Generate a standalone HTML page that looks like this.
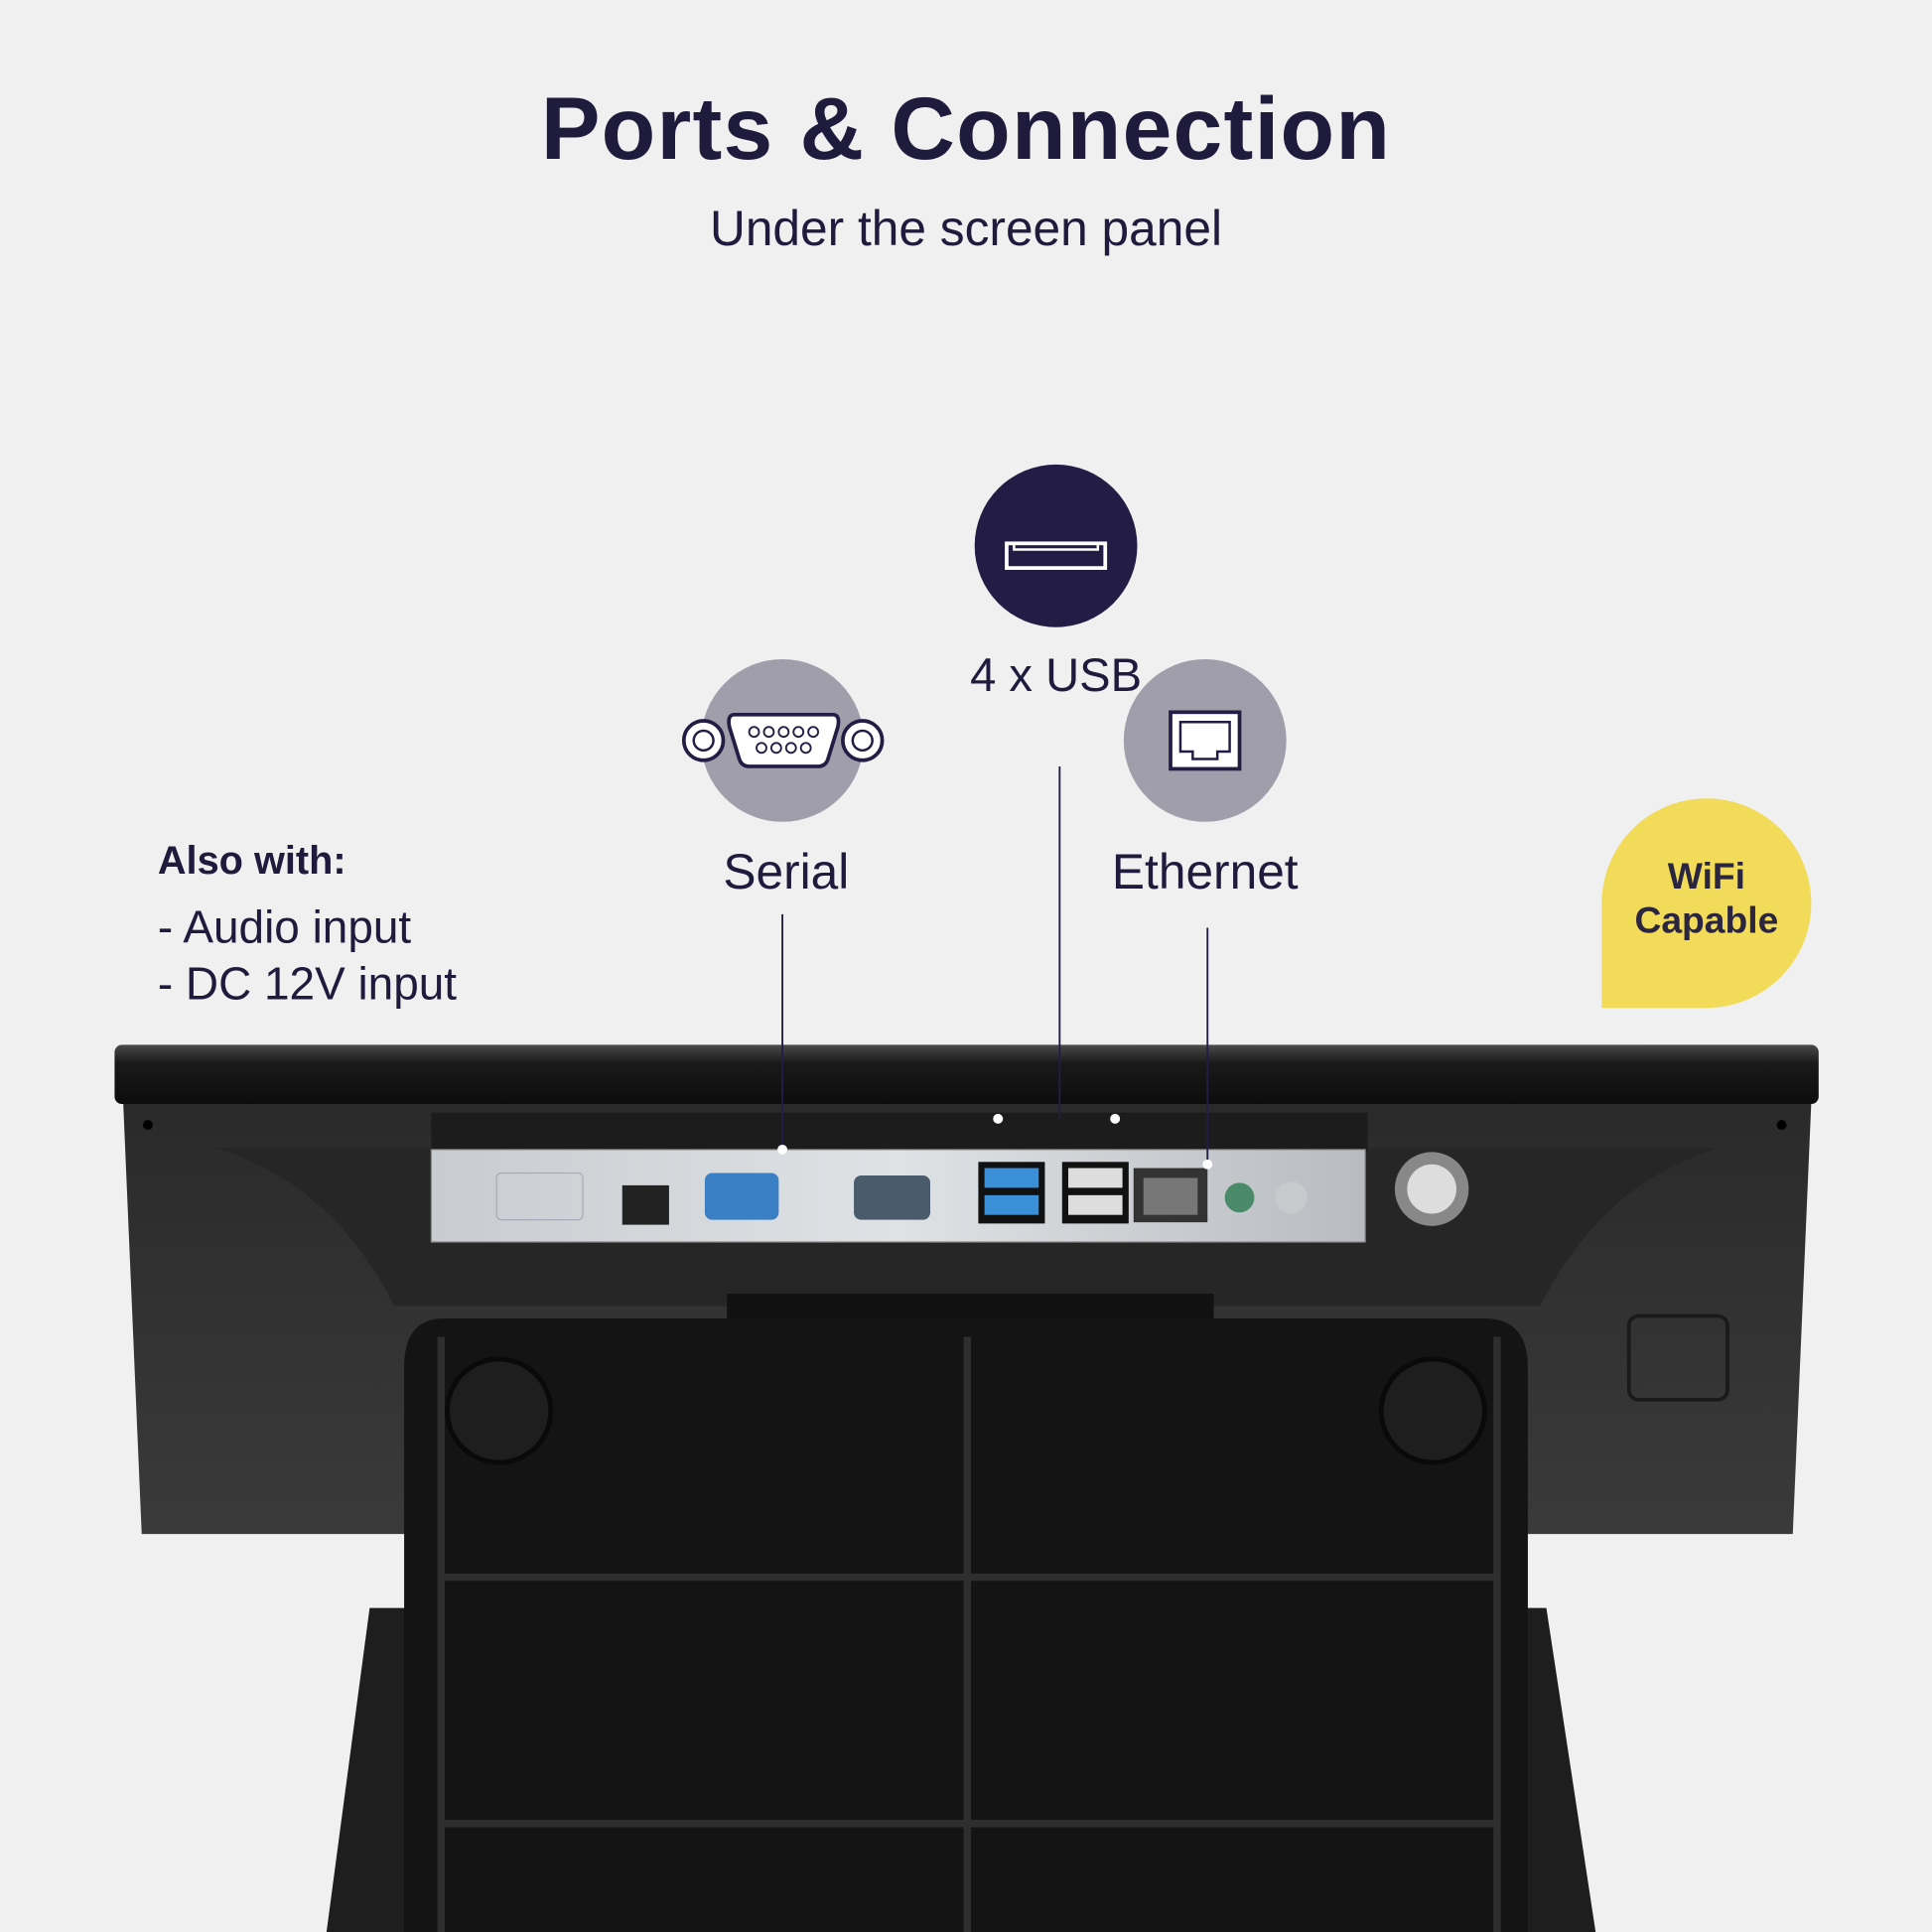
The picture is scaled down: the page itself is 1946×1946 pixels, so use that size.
<!DOCTYPE html>
<html><head><meta charset="utf-8"><style>
html,body{margin:0;padding:0;background:#efefef;}
#wrap{width:1568px;height:1568px;position:relative;transform:scale(1.24107);transform-origin:0 0;overflow:hidden;background:#f0f0f0;font-family:"Liberation Sans",sans-serif;color:#1f1b3d;}
.a{position:absolute;}
.t{position:absolute;white-space:nowrap;transform:translateX(-50%);}
</style></head><body><div id="wrap">
<div class="t" style="left:784px;top:64px;font-size:72px;font-weight:bold;letter-spacing:1px;">Ports &amp; Connection</div>
<div class="t" style="left:784px;top:164px;font-size:40px;">Under the screen panel</div>

<svg class="a" style="left:0;top:0" width="1568" height="1568">
<defs>
<linearGradient id="bz" x1="0" y1="0" x2="0" y2="1"><stop offset="0" stop-color="#4a4a4a"/><stop offset="0.3" stop-color="#1a1a1a"/><stop offset="1" stop-color="#0d0d0d"/></linearGradient>
<linearGradient id="bd" x1="0" y1="0" x2="0" y2="1"><stop offset="0" stop-color="#2a2a2a"/><stop offset="1" stop-color="#3a3a3a"/></linearGradient>
<linearGradient id="pn" x1="0" y1="0" x2="1" y2="0"><stop offset="0" stop-color="#c8ccd0"/><stop offset="0.5" stop-color="#dfe2e5"/><stop offset="1" stop-color="#b8bcc0"/></linearGradient>
</defs>
<path d="M300 1305 L1255 1305 L1295 1568 L265 1568 Z" fill="#1e1e1e"/>
<path d="M100 895 L1470 895 L1455 1245 L115 1245 Z" fill="url(#bd)"/>
<path d="M175 932 L1395 932 Q1300 960 1250 1060 L320 1060 Q270 960 175 932 Z" fill="#262626"/>
<rect x="93" y="848" width="1383" height="48" rx="6" fill="url(#bz)"/>
<circle cx="120" cy="913" r="4" fill="#000"/><circle cx="1446" cy="913" r="4" fill="#000"/>
<rect x="350" y="903" width="760" height="32" fill="#1c1c1c"/>
<rect x="350" y="933" width="758" height="75" fill="url(#pn)" stroke="#888"/>
<rect x="403" y="952" width="70" height="38" rx="4" fill="none" stroke="#aab"/>
<rect x="505" y="962" width="38" height="32" fill="#222"/>
<rect x="572" y="952" width="60" height="38" rx="6" fill="#3b7fc4"/>
<rect x="693" y="954" width="62" height="36" rx="6" fill="#4a5b6c"/>
<rect x="794" y="943" width="54" height="50" fill="#111"/>
<rect x="799" y="948" width="44" height="16" fill="#3a8fd8"/><rect x="799" y="970" width="44" height="16" fill="#3a8fd8"/>
<rect x="862" y="943" width="54" height="50" fill="#111"/>
<rect x="867" y="948" width="44" height="16" fill="#ddd"/><rect x="867" y="970" width="44" height="16" fill="#ddd"/>
<rect x="920" y="948" width="60" height="44" fill="#333"/><rect x="928" y="956" width="44" height="30" fill="#777"/>
<circle cx="1006" cy="972" r="12" fill="#4a8a6a"/><circle cx="1048" cy="972" r="13" fill="#c8cacd"/>
<circle cx="1162" cy="965" r="30" fill="#888"/><circle cx="1162" cy="965" r="20" fill="#ddd"/>
<rect x="590" y="1050" width="395" height="25" fill="#111"/>
<path d="M360 1070 L1205 1070 Q1240 1070 1240 1110 L1240 1568 L328 1568 L328 1110 Q328 1070 360 1070 Z" fill="#141414"/>
<g stroke="#2e2e2e" stroke-width="6" fill="none">
<line x1="785" y1="1085" x2="785" y2="1568"/>
<line x1="358" y1="1280" x2="1215" y2="1280"/>
<line x1="358" y1="1480" x2="1215" y2="1480"/>
<line x1="358" y1="1085" x2="358" y2="1568"/><line x1="1215" y1="1085" x2="1215" y2="1568"/>
</g>
<circle cx="405" cy="1145" r="42" fill="#1e1e1e" stroke="#0a0a0a" stroke-width="4"/>
<circle cx="1163" cy="1145" r="42" fill="#1e1e1e" stroke="#0a0a0a" stroke-width="4"/>
<rect x="1322" y="1068" width="80" height="68" rx="8" fill="none" stroke="#1a1a1a" stroke-width="3"/>
<circle cx="857" cy="443" r="66" fill="#231d45"/>
<rect x="817" y="441" width="80" height="20" fill="none" stroke="#fff" stroke-width="3"/>
<rect x="823" y="441" width="68" height="5" fill="none" stroke="#fff" stroke-width="2"/>
<circle cx="635" cy="601" r="66" fill="#a19eac"/>
<circle cx="571" cy="601" r="16" fill="#fff" stroke="#231d45" stroke-width="3"/><circle cx="571" cy="601" r="8" fill="none" stroke="#231d45" stroke-width="2"/>
<circle cx="700" cy="601" r="16" fill="#fff" stroke="#231d45" stroke-width="3"/><circle cx="700" cy="601" r="8" fill="none" stroke="#231d45" stroke-width="2"/>
<path d="M596 580 L676 580 Q682 580 680 590 L672 616 Q670 622 664 622 L608 622 Q602 622 600 616 L592 590 Q590 580 596 580 Z" fill="#fff" stroke="#231d45" stroke-width="3"/>
<g fill="none" stroke="#231d45" stroke-width="1.5"><circle cx="612" cy="594" r="4"/><circle cx="624" cy="594" r="4"/><circle cx="636" cy="594" r="4"/><circle cx="648" cy="594" r="4"/><circle cx="660" cy="594" r="4"/><circle cx="618" cy="607" r="4"/><circle cx="630" cy="607" r="4"/><circle cx="642" cy="607" r="4"/><circle cx="654" cy="607" r="4"/></g>
<circle cx="978" cy="601" r="66" fill="#a19eac"/>
<rect x="950" y="578" width="56" height="46" fill="#fff" stroke="#231d45" stroke-width="3"/>
<path d="M958 586 L998 586 L998 610 L988 610 L988 616 L968 616 L968 610 L958 610 Z" fill="none" stroke="#231d45" stroke-width="2"/>
<g stroke="#231d45" stroke-width="1.5"><line x1="635" y1="742" x2="635" y2="933"/><line x1="860" y1="622" x2="860" y2="908"/><line x1="980" y1="753" x2="980" y2="945"/></g>
<g fill="#fff"><circle cx="635" cy="933" r="4"/><circle cx="810" cy="908" r="4"/><circle cx="905" cy="908" r="4"/><circle cx="980" cy="945" r="4"/></g>
<path d="M1300 733 A85 85 0 1 1 1385 818 L1300 818 Z" fill="#f1db59"/>
</svg>

<div class="t" style="left:857px;top:528px;font-size:38px;">4 x USB</div>
<div class="t" style="left:638px;top:686px;font-size:40px;">Serial</div>
<div class="t" style="left:978px;top:686px;font-size:40px;">Ethernet</div>
<div class="a" style="left:128px;top:680px;font-size:32px;font-weight:bold;">Also with:</div>
<div class="a" style="left:128px;top:730px;font-size:37px;line-height:46px;">- Audio input<br>- DC 12V input</div>
<div class="t" style="left:1385px;top:694px;font-size:30px;font-weight:bold;text-align:center;line-height:36px;color:#2b2540;">WiFi<br>Capable</div>
</div></body></html>
